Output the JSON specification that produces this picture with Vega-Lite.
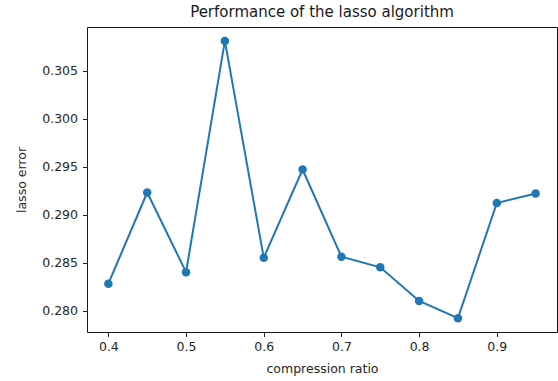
{
  "$schema": "https://vega.github.io/schema/vega-lite/v6.json",
  "width": 470,
  "height": 305,
  "autosize": {"type": "none"},
  "padding": {"left": 87, "top": 27, "right": 1, "bottom": 49},
  "background": "white",
  "title": {"text": "Performance of the lasso algorithm", "font": "DejaVu Sans", "fontSize": 15, "fontWeight": "normal", "color": "#1a1a1a", "anchor": "middle", "offset": 7},
  "config": {
    "view": {"stroke": "#1a1a1a", "strokeWidth": 1},
    "axis": {"labelFont": "DejaVu Sans", "titleFont": "DejaVu Sans", "labelFontSize": 12.5, "titleFontSize": 12.5, "titleFontWeight": "normal", "labelColor": "#262626", "titleColor": "#262626", "tickColor": "#262626", "tickSize": 4.5, "domain": false, "grid": false}
  },
  "data": {"values": [
    {"ratio": 0.40, "error": 0.2828},
    {"ratio": 0.45, "error": 0.2923},
    {"ratio": 0.50, "error": 0.2840},
    {"ratio": 0.55, "error": 0.3081},
    {"ratio": 0.60, "error": 0.2855},
    {"ratio": 0.65, "error": 0.2947},
    {"ratio": 0.70, "error": 0.2856},
    {"ratio": 0.75, "error": 0.2845},
    {"ratio": 0.80, "error": 0.2810},
    {"ratio": 0.85, "error": 0.2792},
    {"ratio": 0.90, "error": 0.2912},
    {"ratio": 0.95, "error": 0.2922}
  ]},
  "encoding": {
    "x": {"field": "ratio", "type": "quantitative", "title": "compression ratio",
      "scale": {"domain": [0.3725, 0.9775], "nice": false, "zero": false},
      "axis": {"values": [0.4, 0.5, 0.6, 0.7, 0.8, 0.9], "format": ".1f", "labelPadding": 4, "titlePadding": 9}},
    "y": {"field": "error", "type": "quantitative", "title": "lasso error",
      "scale": {"domain": [0.27776, 0.30955], "nice": false, "zero": false},
      "axis": {"values": [0.280, 0.285, 0.290, 0.295, 0.300, 0.305], "format": ".3f", "labelPadding": 5, "titlePadding": 13}}
  },
  "layer": [
    {"mark": {"type": "line", "color": "#1f77b4", "strokeWidth": 2}},
    {"mark": {"type": "point", "filled": true, "color": "#1f77b4", "opacity": 1, "size": 72}}
  ]
}
